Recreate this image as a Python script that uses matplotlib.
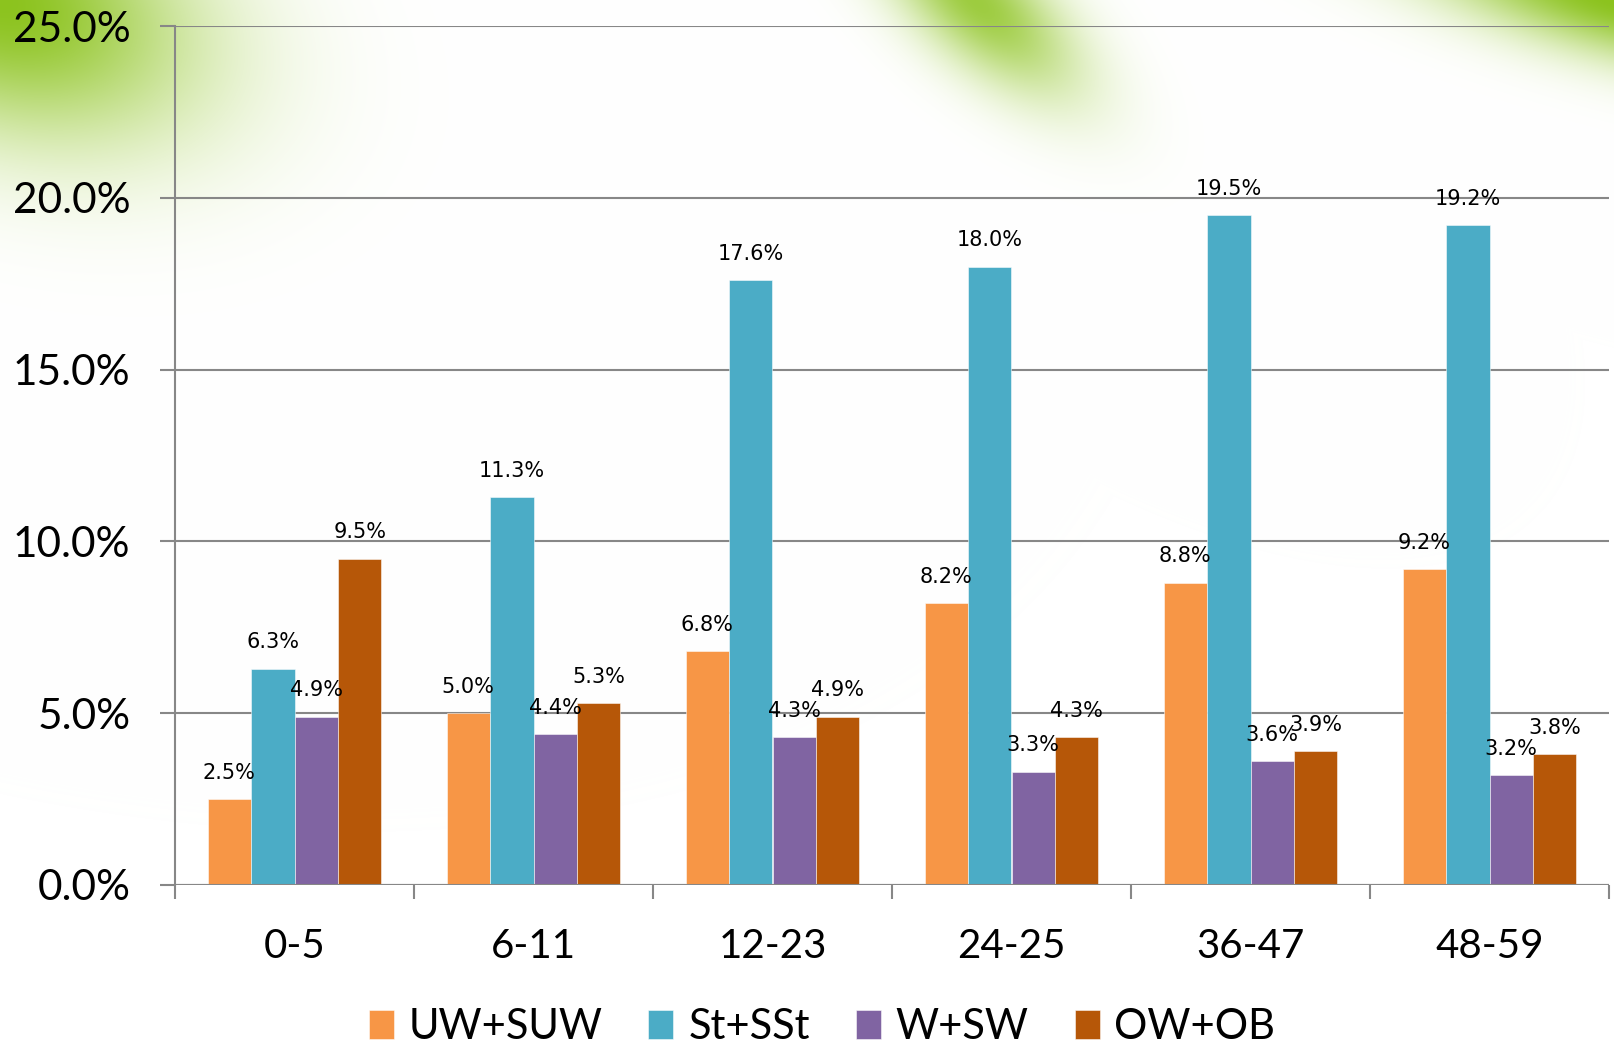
import numpy as np
import matplotlib
matplotlib.use("Agg")
import matplotlib.pyplot as plt
from matplotlib.ticker import FixedLocator, FuncFormatter

categories = ["0-5", "6-11", "12-23", "24-25", "36-47", "48-59"]
series_names = ["UW+SUW", "St+SSt", "W+SW", "OW+OB"]
uw_suw = [2.5, 5.0, 6.8, 8.2, 8.8, 9.2]
st_sst = [6.3, 11.3, 17.6, 18.0, 19.5, 19.2]
w_sw = [4.9, 4.4, 4.3, 3.3, 3.6, 3.2]
ow_ob = [9.5, 5.3, 4.9, 4.3, 3.9, 3.8]
series_values = [uw_suw, st_sst, w_sw, ow_ob]
colors = ["#F79646", "#4BACC6", "#8064A2", "#B65708"]
yticks = [0, 5, 10, 15, 20, 25]

W, H = 1614, 1047
fig = plt.figure(figsize=(W / 100, H / 100), dpi=100)

# decorative green background glow
bg = fig.add_axes([0, 0, 1, 1], zorder=0)
bg.set_axis_off()
yy, xx = np.mgrid[0:H, 0:W].astype(float)

def blob(cx, cy, s1, s2, ang, peak):
    a = np.deg2rad(ang)
    dx, dy = xx - cx, yy - cy
    u = dx * np.cos(a) + dy * np.sin(a)
    v = -dx * np.sin(a) + dy * np.cos(a)
    return peak * np.exp(-((u / s1) ** 2 + (v / s2) ** 2))

alpha = blob(0, 0, 200, 125, 20, 1.0)
alpha = np.maximum(alpha, blob(975, 0, 125, 55, 42, 0.85))
alpha = np.maximum(alpha, blob(1614, 0, 210, 55, 15, 1.0))
alpha = np.clip(alpha, 0, 1)
green = np.array([140, 195, 30]) / 255.0
img = np.ones((H, W, 3))
img = img * (1 - alpha[..., None]) + green * alpha[..., None]
bg.imshow(img, extent=[0, 1, 0, 1], aspect="auto", origin="upper")
bg.set_xlim(0, 1)
bg.set_ylim(0, 1)

ax = fig.add_axes([175 / W, 1 - 885 / H, (1609 - 175) / W, (885 - 26) / H], zorder=1)
ax.set_facecolor("none")

x = np.arange(len(categories))
bw = 0.182
for i, (name, vals, c) in enumerate(zip(series_names, series_values, colors)):
    pos = x + (i - 1.5) * bw
    ax.bar(pos, vals, width=bw, color=c, edgecolor=(1, 1, 1, 0.6),
           linewidth=0.6, label=name, zorder=3)
    for p, v in zip(pos, vals):
        ax.annotate(f"{v:.1f}%", xy=(p, v), xytext=(0, 14.5), textcoords="offset points",
                    ha="center", va="baseline", fontsize=15, family="DejaVu Sans",
                    color="black", zorder=5)

ax.set_xlim(-0.5, len(categories) - 0.5)
ax.set_ylim(0, 25)
gray = "#878787"
ax.yaxis.set_major_locator(FixedLocator(yticks))
ax.yaxis.set_major_formatter(FuncFormatter(lambda v, p: f"{v:.1f}%"))
ax.grid(axis="y", color=gray, linewidth=1.5, zorder=0)
ax.set_axisbelow(True)
for s in ["top", "right", "bottom"]:
    ax.spines[s].set_visible(False)
ax.spines["left"].set_color(gray)
ax.spines["left"].set_linewidth(1.5)
ax.tick_params(axis="y", length=11, width=1.5, color=gray, pad=21,
               labelsize=30.5, labelfontfamily="Lato")
ax.set_xticks(x)
ax.set_xticklabels(categories)
ax.set_xticks(np.arange(-0.5, len(categories) + 0.5, 1), minor=True)
ax.tick_params(axis="x", which="major", length=0, pad=31, labelsize=29,
               labelfontfamily="Lato")
ax.tick_params(axis="x", which="minor", length=10, width=1.5, color=gray)
ax.axhline(0, color=gray, linewidth=1.5, zorder=4)

leg = fig.legend(loc="center", bbox_to_anchor=(822 / W, 1 - 1027 / H), ncol=4,
                 frameon=False, prop={"family": "Lato", "size": 30},
                 handlelength=0.6, handleheight=0.7, handletextpad=0.36,
                 columnspacing=1.1)

fig.savefig("out.png", dpi=100)
